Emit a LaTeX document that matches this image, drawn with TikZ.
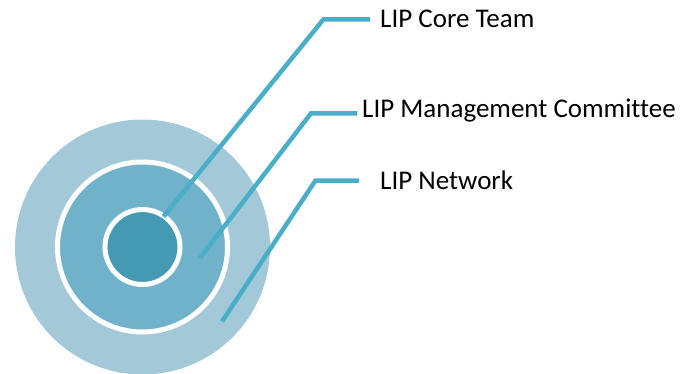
\documentclass[tikz,border=0pt]{standalone}
\usepackage{fontspec}
\setmainfont{Carlito}[Ligatures=NoCommon]
\usetikzlibrary{calc}

\definecolor{ringout}{HTML}{A3C9D9}
\definecolor{ringmid}{HTML}{70B2C9}
\definecolor{ringin}{HTML}{449AB2}
\definecolor{leadcol}{HTML}{4BAEC8}

\begin{document}
\begin{tikzpicture}[x=1pt,y=-1pt,
		ring/.style={circle, inner sep=0pt, draw=white, line width=5pt},
		leader/.style={draw=leadcol, line width=4.5pt},
		label/.style={anchor=base west, inner sep=0pt, font=\fontsize{27}{31}\selectfont}]
		\useasboundingbox (0,0) rectangle (689,373);

		\node[circle, inner sep=0pt, fill=ringout, minimum size=255pt] (outer) at (142.5,247) {};
		\node[ring, fill=ringmid, minimum size=170pt] (middle) at (outer.center) {};
		\node[ring, fill=ringin, minimum size=75pt] (inner) at (outer.center) {};

		\node[label] (core) at (380,27.5) {LIP Core Team};
		\node[label] (mgmt) at (362,117.3) {LIP Management Committee};
		\node[label] (net) at (380,189.3) {LIP Network};

%		start points inside the rings and the bends
		\coordinate (core-in) at (163.5,216.5);
		\coordinate (core-bend) at (323.5,19.3);
		\coordinate (mgmt-in) at (200,258);
		\coordinate (mgmt-bend) at (311,113.3);
		\coordinate (net-in) at (222,321.5);
		\coordinate (net-bend) at (315.5,180.5);

		\draw[leader] (core-in) -- (core-bend) -- ($(core.west |- core-bend)+(-10,0)$);
		\draw[leader] (mgmt-in) -- (mgmt-bend) -- ($(mgmt.west |- mgmt-bend)+(-5,0)$);
		\draw[leader] (net-in) -- (net-bend) -- ($(net.west |- net-bend)+(-21,0)$);
\end{tikzpicture}
\end{document}
